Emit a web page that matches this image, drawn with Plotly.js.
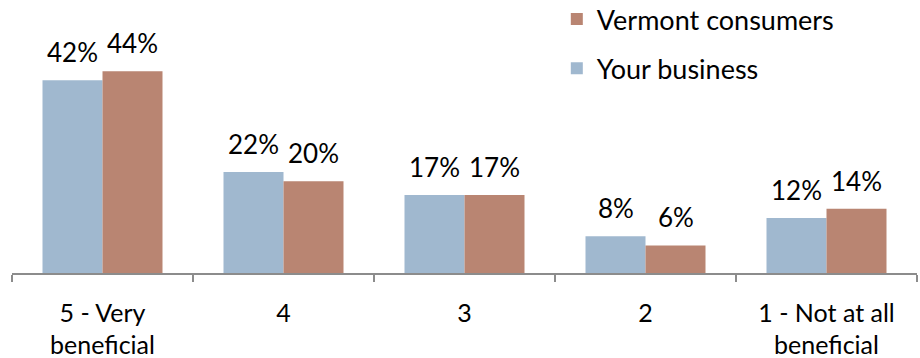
<!DOCTYPE html>
<html>
<head>
<meta charset="utf-8">
<script src="https://cdn.plot.ly/plotly-3.0.1.min.js"></script>
<style>
  html, body { margin: 0; padding: 0; background: #fff; }
  #chart { width: 920px; height: 358px; }
</style>
</head>
<body>
<div id="chart"></div>
<script>
// Rating categories (5 = very beneficial ... 1 = not at all beneficial)
const categories = ["5 - Very<br>beneficial", "4", "3", "2", "1 - Not at all<br>beneficial"];
// Share of responses, in percent
const yourBusiness = [42, 22, 17, 8, 12];
const vermontConsumers = [44, 20, 17, 6, 14];

const blue = "#a0b8cf";
const brown = "#b98572";
const font = "Lato, 'Open Sans', 'DejaVu Sans', sans-serif";

const traces = [
  {
    type: "bar", name: "Your business", x: categories, y: yourBusiness,
    marker: { color: blue }, legendgroup: "a", legendrank: 2, hoverinfo: "skip"
  },
  {
    type: "bar", name: "Vermont consumers", x: categories, y: vermontConsumers,
    marker: { color: brown }, legendgroup: "b", legendrank: 1, hoverinfo: "skip"
  }
];

// Value labels centred above each bar (category index +/- half a bar width)
const barGap = 0.337;
const half = (1 - barGap) / 4;
const annotations = [];
categories.forEach((c, i) => {
  [[yourBusiness, -half], [vermontConsumers, half]].forEach(([vals, dx]) => {
    annotations.push({
      x: i + dx, y: vals[i], xref: "x", yref: "y",
      text: vals[i] + "%", showarrow: false,
      yanchor: "middle", yshift: 28,
      font: { family: font, size: 26, color: "#000" }
    });
  });
});

const layout = {
  width: 920, height: 358,
  margin: { l: 12, r: 3, t: 12, b: 85, autoexpand: false },
  paper_bgcolor: "#fff", plot_bgcolor: "#fff",
  barmode: "group", bargap: barGap, bargroupgap: 0,
  font: { family: font, size: 26, color: "#000" },
  xaxis: {
    type: "category", automargin: false,
    showline: true, linecolor: "#8c8c8c", linewidth: 1.5,
    ticks: "outside", ticklen: 7, tickcolor: "#8c8c8c", tickwidth: 1.5,
    tickson: "boundaries", ticklabelstandoff: 17,
    showgrid: false, zeroline: false,
    tickfont: { family: font, size: 25, color: "#000" }
  },
  yaxis: {
    range: [0, 56.9], visible: false, showgrid: false, zeroline: false
  },
  showlegend: true,
  legend: {
    x: 0.602, xanchor: "left", y: 1.065, yanchor: "top",
    traceorder: "grouped", tracegroupgap: 11,
    font: { family: font, size: 27, color: "#000" },
    bgcolor: "rgba(0,0,0,0)"
  },
  annotations: annotations
};

Plotly.newPlot("chart", traces, layout, { displayModeBar: false, staticPlot: true });
</script>
</body>
</html>
